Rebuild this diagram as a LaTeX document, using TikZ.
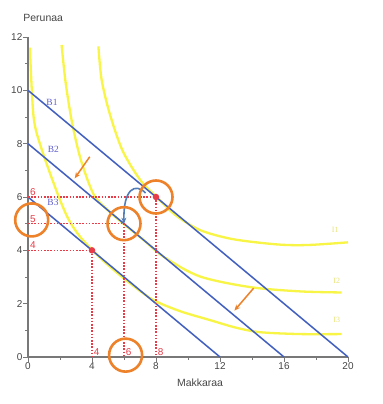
\documentclass[tikz,border=0pt]{standalone}
\usepackage{fontspec}
\setmainfont{Liberation Serif}
\setsansfont{Liberation Sans}
\usetikzlibrary{arrows.meta}
\definecolor{axisgray}{RGB}{120,120,120}
\definecolor{ticktext}{RGB}{70,70,70}
\definecolor{budget}{RGB}{66,96,192}
\definecolor{indiff}{RGB}{248,245,70}
\definecolor{guide}{RGB}{232,60,72}
\definecolor{hilite}{RGB}{238,130,42}
\definecolor{curvearrow}{RGB}{80,125,185}
\definecolor{blabel}{RGB}{95,95,205}
\definecolor{ilabel}{RGB}{232,228,120}
\tikzset{
  axisline/.style={draw=axisgray, line width=1.1bp},
  majortick/.style={draw=axisgray, line width=0.8bp},
  ticklabel/.style={font=\sffamily\fontsize{10}{12}\selectfont, text=ticktext, inner sep=0pt},
  axistitle/.style={font=\sffamily\fontsize{10.5}{12}\selectfont, text=ticktext, inner sep=0pt},
  budgetline/.style={draw=budget, line width=1.5bp},
  indiffcurve/.style={draw=indiff, line width=2.3bp},
  guideline/.style={draw=guide, line width=1.6bp, dash pattern=on 1.6bp off 1.6bp},
  guidelabel/.style={font=\sffamily\fontsize{10}{11}\selectfont, text=guide, inner sep=0pt, anchor=south west},
  hilitering/.style={draw=hilite, line width=2.6bp},
  hilitearrow/.style={draw=hilite, line width=1.5bp, -{Stealth[length=6bp,width=5bp]}},
  blab/.style={font=\fontsize{9.5}{11}\selectfont, text=blabel, inner sep=0pt},
  ilab/.style={font=\fontsize{8}{10}\selectfont, text=ilabel, inner sep=0pt},
  dotpt/.style={circle, fill=guide, inner sep=0pt, minimum size=6.5bp}
}
\begin{document}
\begin{tikzpicture}[x=16bp,y=26.6667bp]
\useasboundingbox (-1.75,-1.7625) rectangle (22.1875,13.3875);
\fill[white] (-1.75,-1.7625) rectangle (22.1875,13.3875);

% indifference curves
\draw[indiffcurve] plot[smooth] coordinates {(4.4,11.65) (4.6,10.4) (5.1,9.14) (5.9,7.75) (7,6.65) (8,6.02) (9.2,5.33) (10.75,4.76) (12.8,4.42) (15.6,4.22) (17.5,4.2) (20,4.3)};
\draw[indiffcurve] plot[smooth] coordinates {(2.1,11.7) (2.35,10.3) (2.75,8.8) (3.3,7.4) (4.1,6.1) (5,5.5) (6,4.98) (7.2,4.4) (8.5,3.75) (10.75,3.02) (13.9,2.62) (17,2.46) (19.6,2.42)};
\draw[indiffcurve] plot[smooth] coordinates {(0.12,11.6) (0.35,9.0) (0.85,7.8) (1.8,6.2) (2.5,5.2) (3.2,4.55) (4,4.02) (5,3.45) (6.3,2.8) (7.8,2.15) (9.5,1.72) (11.4,1.38) (13,1.1) (14.5,0.93) (17,0.86) (19.6,0.86)};
\node[ilab] (i1) at (19.2,4.78) {I1};
\node[ilab] (i2) at (19.3,2.85) {I2};
\node[ilab] (i3) at (19.3,1.4) {I3};

% axes
\coordinate (o) at (0,0);
\coordinate (ytop) at (0,12);
\coordinate (xend) at (20,0);
\draw[axisline] (ytop) -- (o) -- (xend);
\foreach \v in {0,2,...,12} {
  \draw[majortick] (0,\v) -- ++(-5bp,0);
  \node[ticklabel, anchor=east] (yl\v) at ([xshift=-5.5bp]0,\v) {\v};
}
\foreach \v in {1,3,...,11} \draw[majortick] (0,\v) -- ++(-3bp,0);
\foreach \v in {0,4,...,20} {
  \draw[majortick] (\v,0) -- ++(0,-5bp);
  \node[ticklabel, anchor=north] (xl\v) at ([yshift=-5.5bp]\v,0) {\v};
}
\foreach \v in {2,6,...,18} \draw[majortick] (\v,0) -- ++(0,-3bp);
\node[axistitle] (ytitle) at (0.95,12.73) {Perunaa};
\node[axistitle] (xtitle) at (10.75,-0.95) {Makkaraa};

% budget lines
\coordinate (b1a) at (0,10); \coordinate (b1b) at (20,0);
\coordinate (b2a) at (0,8);  \coordinate (b2b) at (16,0);
\coordinate (b3a) at (0,6);  \coordinate (b3b) at (12,0);
\draw[budgetline] (b1a) -- (b1b);
\draw[budgetline] (b2a) -- (b2b);
\draw[budgetline] (b3a) -- (b3b);
\node[blab] (lb1) at (1.5,9.54) {B1};
\node[blab] (lb2) at (1.58,7.8) {B2};
\node[blab] (lb3) at (1.56,5.8) {B3};

% guide lines
\coordinate (pa) at (8,6); \coordinate (pb) at (6,5); \coordinate (pc) at (4,4);
\draw[guideline] (0,6) -- (pa) -- (8,0);
\draw[guideline] (0,5) -- (pb) -- (6,0);
\draw[guideline] (0,4) -- (pc) -- (4,0);
\node[guidelabel] (g6) at (0.12,6.05) {6};
\node[guidelabel] (g5) at (0.12,5.05) {5};
\node[guidelabel] (g4) at (0.12,4.05) {4};
\node[guidelabel] (h4) at (4.1,0.05) {4};
\node[guidelabel] (h6) at (6.1,0.05) {6};
\node[guidelabel] (h8) at (8.1,0.05) {8};
\node[dotpt] (da) at (pa) {};
\node[dotpt] (dc) at (pc) {};

% curved arrow
\draw[draw=curvearrow, line width=1.6bp, -{Stealth[length=6bp,width=5bp]}] (7.35,6.15) .. controls (6.7,6.55) and (5.95,6.3) .. (pb);

% highlight rings
\draw[hilitering] (pa) circle (16.5bp);
\draw[hilitering] (pb) circle (16.5bp);
\draw[hilitering] (0.23,5.14) circle (16.5bp);
\draw[hilitering] (6.1,0.07) circle (16.5bp);

% orange arrows
\coordinate (oa1) at (3.86,7.51); \coordinate (oa2) at (2.92,6.7);
\coordinate (ob1) at (14.1,2.58); \coordinate (ob2) at (12.9,1.74);
\draw[hilitearrow] (oa1) -- (oa2);
\draw[hilitearrow] (ob1) -- (ob2);
\end{tikzpicture}
\end{document}
